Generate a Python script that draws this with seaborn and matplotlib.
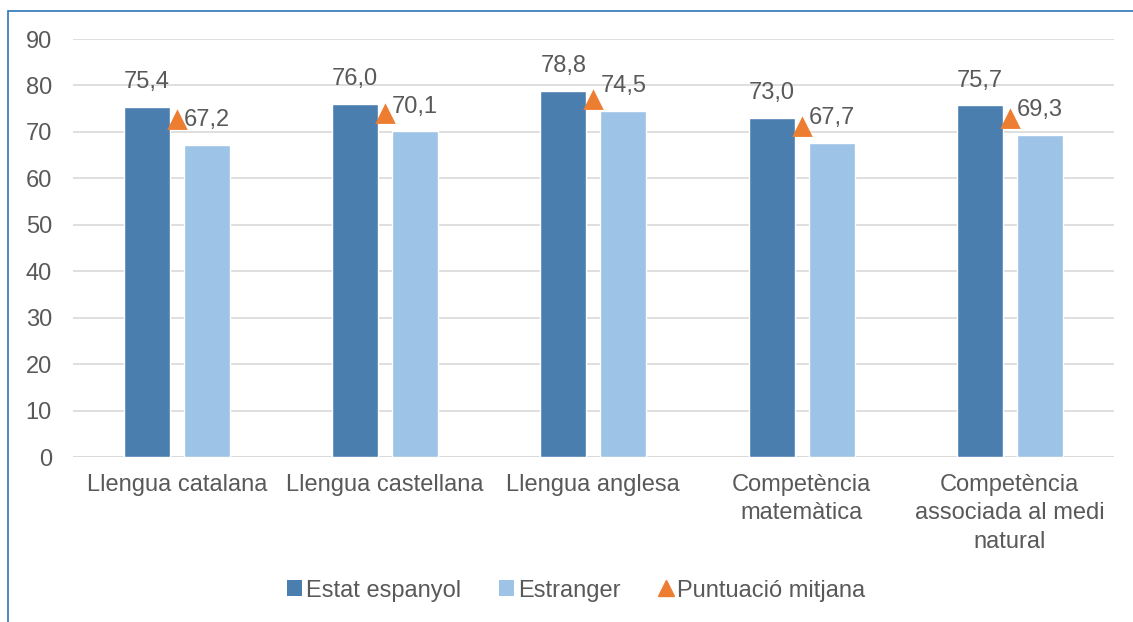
import matplotlib
matplotlib.use("Agg")
import matplotlib.pyplot as plt
import seaborn as sns
import pandas as pd
from matplotlib.patches import Rectangle, Patch
from matplotlib.lines import Line2D

categories = ["Llengua catalana", "Llengua castellana", "Llengua anglesa",
              "Competència\nmatemàtica", "Competència\nassociada al medi\nnatural"]
estat_espanyol = [75.4, 76.0, 78.8, 73.0, 75.7]
estranger = [67.2, 70.1, 74.5, 67.7, 69.3]
puntuacio_mitjana = [72.5, 73.9, 76.8, 71.1, 72.7]
series_names = ["Estat espanyol", "Estranger", "Puntuació mitjana"]

DARK = "#4A7EAF"
LIGHT = "#9DC3E6"
ORANGE = "#ED7D31"
TXT = "#595959"
FS = 17

sns.set_theme(style="white")
plt.rcParams["font.family"] = ["Liberation Sans", "DejaVu Sans"]

df = pd.DataFrame({
    "cat": categories * 2,
    "val": estat_espanyol + estranger,
    "serie": [series_names[0]] * 5 + [series_names[1]] * 5,
})

fig = plt.figure(figsize=(11.33, 6.22), dpi=100)
ax = fig.add_axes([72.7 / 1133, 1 - 457 / 622, 1041.3 / 1133, 418 / 622])

sns.barplot(data=df, x="cat", y="val", hue="serie", order=categories,
            hue_order=series_names[:2], palette=[DARK, LIGHT],
            width=0.576, gap=0.236, legend=False, ax=ax, saturation=1)

sns.pointplot(x=categories, y=puntuacio_mitjana, order=categories,
              linestyle="none", markers="^", color=ORANGE, markersize=12,
              ax=ax, zorder=5)

for cont in ax.containers[:2]:
    vals = [b.get_height() for b in cont]
    ax.bar_label(cont, labels=[f"{v:.1f}".replace(".", ",") for v in vals],
                 padding=10, fontsize=FS, color=TXT)

ax.set_xlim(-0.5, 4.5)
ax.set_ylim(0, 90)
ax.set_yticks(range(0, 91, 10))
ax.yaxis.grid(True, color="#D9D9D9", linewidth=1.2)
ax.set_axisbelow(True)
for s in ["top", "right", "left", "bottom"]:
    ax.spines[s].set_visible(False)
ax.axhline(0, color="#D9D9D9", linewidth=1.2, zorder=0)
ax.set_xlabel("")
ax.set_ylabel("")
ax.tick_params(axis="both", length=0, labelsize=FS, labelcolor=TXT)
ax.tick_params(axis="y", pad=15)
ax.tick_params(axis="x", pad=12)
for lab in ax.get_xticklabels():
    lab.set_linespacing(1.4)

handles = [
    Patch(facecolor=DARK, edgecolor="none"),
    Patch(facecolor=LIGHT, edgecolor="none"),
    Line2D([], [], linestyle="none", marker="^", color=ORANGE, markersize=11),
]
leg = fig.legend(handles, series_names, loc="center",
                 bbox_to_anchor=(576 / 1133, 1 - 590.5 / 622), ncol=3,
                 frameon=False, fontsize=FS, handlelength=0.65, handleheight=0.65,
                 handletextpad=0.15, columnspacing=1.6)
for t in leg.get_texts():
    t.set_color(TXT)

fig.patches.append(Rectangle((7.7 / 1133, -0.1), 1.2, 1 - 11.3 / 622 + 0.1,
                             transform=fig.transFigure, fill=False,
                             edgecolor="#2E75B6", linewidth=1.2))

fig.savefig("out.png", dpi=100)
